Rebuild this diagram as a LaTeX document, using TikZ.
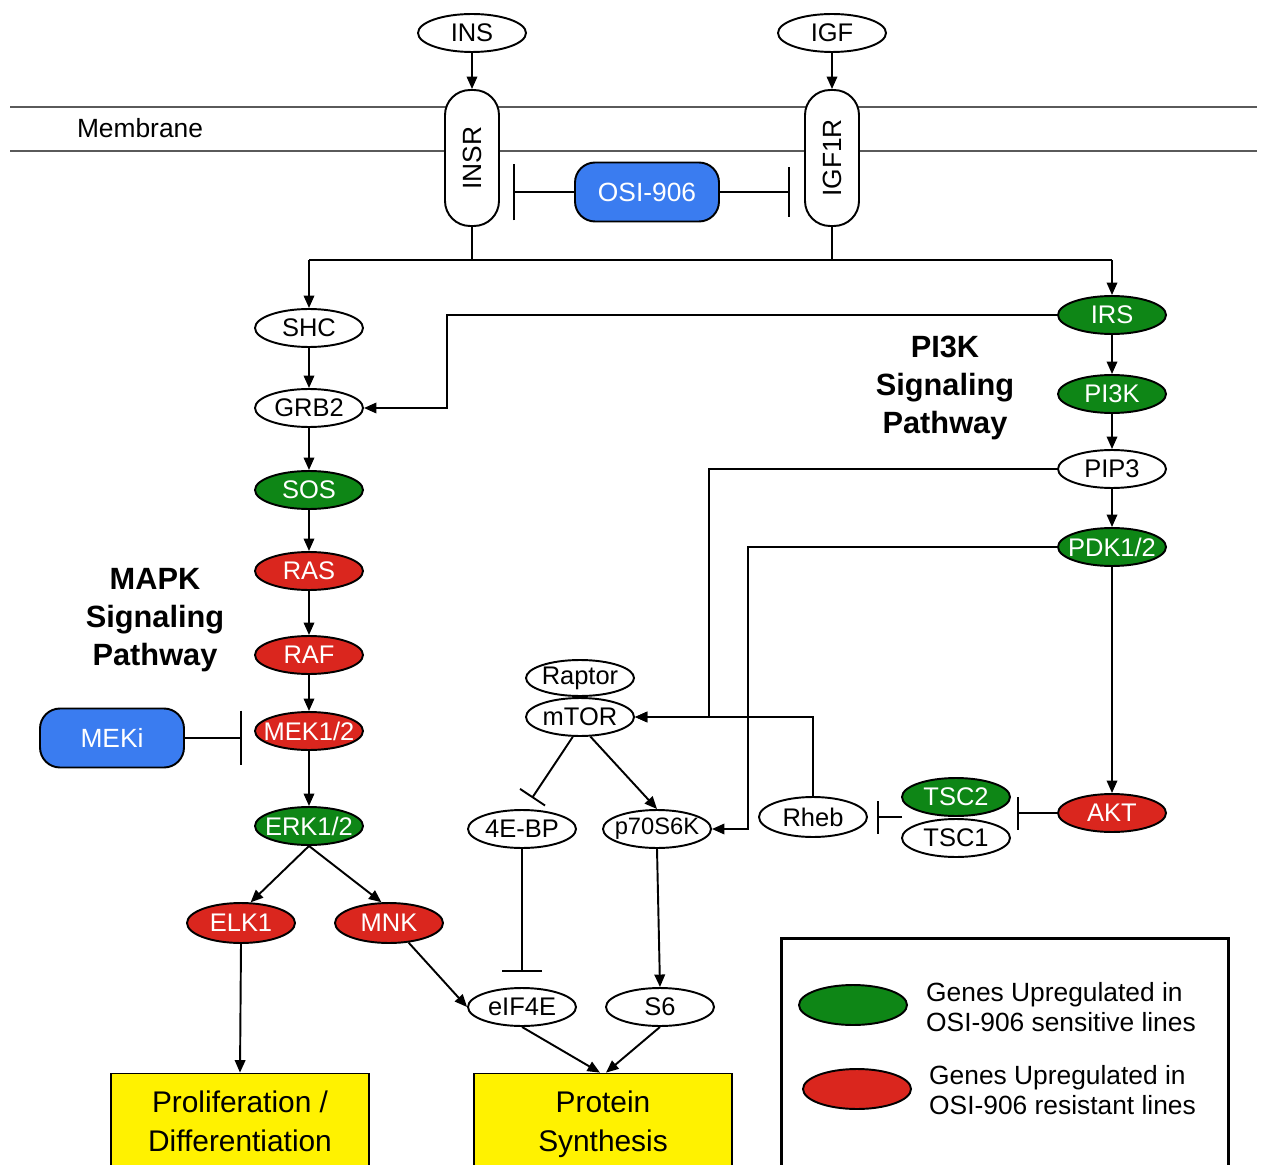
\documentclass[tikz,border=0pt]{standalone}
\usepackage{fontspec}
\setmainfont{Liberation Sans}
\usetikzlibrary{shapes.geometric,arrows.meta}
\definecolor{ggreen}{RGB}{14,134,22}
\definecolor{gred}{RGB}{218,38,30}
\definecolor{gblue}{RGB}{58,124,240}
\definecolor{memb}{RGB}{90,90,90}
\newcommand\mb[1]{\makebox[0pt]{#1}}
\tikzset{
  gene/.style={ellipse, draw=black, line width=1.1pt, minimum width=2.16cm, minimum height=0.76cm, inner sep=0pt, fill=white, font=\fontsize{14.5}{16}\selectfont},
  up/.style={gene, fill=ggreen, text=white},
  dn/.style={gene, fill=gred, text=white},
  drug/.style={rectangle, rounded corners=0.4cm, draw=black, line width=1.1pt, fill=gblue, text=white, minimum width=2.88cm, minimum height=1.18cm, inner sep=0pt, font=\fontsize{15}{17}\selectfont},
  recep/.style={rectangle, rounded corners=0.5cm, draw=black, line width=1.1pt, fill=white, minimum width=2.72cm, minimum height=1.08cm, inner sep=0pt, font=\fontsize{15}{17}\selectfont},
  outbox/.style={rectangle, draw=black, line width=1pt, fill=yellow, minimum width=5.16cm, minimum height=2.04cm, inner sep=0pt, align=center, font=\fontsize{17}{22}\selectfont},
  act/.style={-{Triangle[length=0.25cm,width=0.21cm]}, line width=1.1pt},
  inh/.style={-{Bar[width=#1]}, line width=1.1pt},
  inh/.default=0.7cm,
  plain/.style={line width=1.1pt},
  title/.style={align=center, font=\bfseries\fontsize{17.5}{21.8}\selectfont},
  legtext/.style={anchor=west, align=left, font=\fontsize{15}{17}\selectfont}
}
\begin{document}
\begin{tikzpicture}[x=0.02cm,y=-0.02cm]
\useasboundingbox (0,0) rectangle (1267,1165);

% membrane
\draw[memb, line width=1.6pt] (10,107) -- (1257,107);
\draw[memb, line width=1.6pt] (10,151) -- (1257,151);
\node[font=\fontsize{15}{17}\selectfont] (membrane) at (140,128) {Membrane};

% ligands and receptors
\node[gene] (INS) at (472,33) {\mb{INS}};
\node[gene] (IGF) at (832,33) {\mb{IGF}};
\node[recep, rotate=90] (INSR) at (472,158) {INSR};
\node[recep, rotate=90] (IGF1R) at (832,158) {IGF1R};
\draw[act] (INS) -- (INSR.east);
\draw[act] (IGF) -- (IGF1R.east);

\node[drug] (OSI) at (647,192) {OSI-906};
\coordinate (osiL) at (513,192);
\coordinate (osiR) at (790,192);
\draw[inh=1.14cm] (OSI.west) -- (osiL);
\draw[inh=1.0cm] (OSI.east) -- (osiR);

% MAPK column
\node[gene] (SHC) at (309,328) {\mb{SHC}};
\node[gene] (GRB2) at (309,408) {\mb{GRB2}};
\node[up] (SOS) at (309,490) {\mb{SOS}};
\node[dn] (RAS) at (309,571) {\mb{RAS}};
\node[dn] (RAF) at (309,655) {\mb{RAF}};
\node[dn] (MEK) at (309,731) {\mb{MEK1/2}};
\node[up] (ERK) at (309,826) {\mb{ERK1/2}};
\node[dn, minimum height=0.8cm] (ELK1) at (241,923) {\mb{ELK1}};
\node[dn, minimum height=0.8cm] (MNK) at (389,923) {\mb{MNK}};
\node[drug] (MEKi) at (112,738) {MEKi};
\coordinate (mekbar) at (242,738);
\draw[inh=1.1cm] (MEKi.east) -- (mekbar);

\node[title] (mapk) at (155,620) {MAPK\\Signaling\\Pathway};

% receptor junction
\coordinate (jL) at (309,260);
\coordinate (jR) at (1112,260);
\draw[plain] (INSR.west) -- (INSR.west |- jL);
\draw[plain] (IGF1R.west) -- (IGF1R.west |- jL);
\draw[plain] (jL) -- (jR);
\draw[act] (jL) -- (SHC);

% PI3K column
\node[up] (IRS) at (1112,315) {\mb{IRS}};
\node[up] (PI3K) at (1112,394) {\mb{PI3K}};
\node[gene] (PIP3) at (1112,469) {\mb{PIP3}};
\node[up] (PDK) at (1112,547) {\mb{PDK1/2}};
\node[dn] (AKT) at (1112,813) {\mb{AKT}};
\node[title] (pi3k) at (945,388) {PI3K\\Signaling\\Pathway};

\draw[act] (jR) -- (IRS);
\draw[act] (SHC) -- (GRB2);
\draw[act] (GRB2) -- (SOS);
\draw[act] (SOS) -- (RAS);
\draw[act] (RAS) -- (RAF);
\draw[act] (RAF) -- (MEK);
\draw[act] (MEK) -- (ERK);
\draw[act] (ERK.south) -- (ELK1.65);
\draw[act] (ERK.south) -- (MNK.110);

\draw[act] (IRS) -- (PI3K);
\draw[act] (PI3K) -- (PIP3);
\draw[act] (PIP3) -- (PDK);
\draw[act] (PDK) -- (AKT);
\draw[act] (IRS.west) -- (447,315) |- (GRB2.east);

% mTOR region
\node[gene, minimum height=0.72cm] (Raptor) at (580,678) {\mb{Raptor}};
\node[gene] (mTOR) at (580,717) {\mb{mTOR}};
\node[gene] (FEBP) at (522,829) {\mb{4E-BP}};
\node[gene, font=\fontsize{13.5}{15}\selectfont] (p70) at (657,829) {\mb{p70S6K}};
\node[gene, minimum height=0.8cm] (Rheb) at (813,817) {\mb{Rheb}};
\node[gene] (TSC1) at (956,838) {\mb{TSC1}};
\node[up] (TSC2) at (956,797) {\mb{TSC2}};
\node[gene] (eIF4E) at (522,1007) {\mb{eIF4E}};
\node[gene] (S6) at (660,1007) {\mb{S6}};

\draw[act] (PIP3.west) -- (709,469) |- (mTOR.east);
\draw[act] (Rheb.north) |- (mTOR.east);
\draw[act] (PDK.west) -- (748,547) |- (p70.east);
\coordinate (aktbar) at (1017,813);
\draw[inh=0.66cm] (AKT.west) -- (aktbar);
\coordinate (tscL) at (902,817);
\coordinate (rhebbar) at (877,817);
\draw[inh=0.66cm] (tscL) -- (rhebbar);
\coordinate (mtorbar) at (532,798);
\draw[inh=0.6cm] (mTOR.-110) -- (mtorbar);
\draw[act] (mTOR.-62) -- (p70.north);
\coordinate (eifbar) at (522,972);
\draw[inh=0.8cm] (FEBP.south) -- (eifbar);
\draw[act] (p70.south) -- (S6.north);
\draw[act] (MNK.-45) -- (eIF4E.west);

% outputs
\node[outbox] (prolif) at (240,1124.5) {Proliferation /\strut\\Differentiation\strut};
\node[outbox] (protein) at (603,1124.5) {Protein\strut\\Synthesis\strut};
\draw[act] (ELK1.south) -- (prolif.north);
\draw[act] (eIF4E.south) -- ([xshift=-0.06cm]protein.north);
\draw[act] (S6.south) -- ([xshift=0.06cm]protein.north);

% legend
\node[rectangle, draw=black, line width=1.7pt, minimum width=8.94cm, minimum height=4.9cm, anchor=north west, inner sep=0pt] (legend) at (780,937) {};
\node[up, minimum width=2.16cm, minimum height=0.8cm] (legG) at (853,1005) {};
\node[dn, minimum width=2.16cm, minimum height=0.8cm] (legR) at (857,1089) {};
\node[legtext] (legGt) at (920,1007) {Genes Upregulated in\\OSI-906 sensitive lines};
\node[legtext] (legRt) at (923,1090) {Genes Upregulated in\\OSI-906 resistant lines};
\end{tikzpicture}
\end{document}
